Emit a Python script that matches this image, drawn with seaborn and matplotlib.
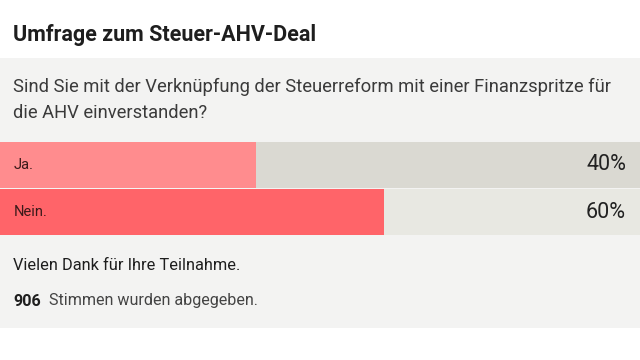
import matplotlib
matplotlib.use('Agg')
import matplotlib.pyplot as plt
import seaborn as sns
import pandas as pd
from matplotlib.patches import Rectangle

# 데이터
answers = ['Ja.', 'Nein.']
shares = [40, 60]
votes = 906
title = 'Umfrage zum Steuer-AHV-Deal'
question = ('Sind Sie mit der Verknüpfung der Steuerreform mit einer Finanzspritze für\n'
            'die AHV einverstanden?')
thanks = 'Vielen Dank für Ihre Teilnahme.'
votes_text = 'Stimmen wurden abgegeben.'

fill_colors = ['#ff8c8e', '#ff6469']
track_colors = ['#dad9d2', '#e8e8e2']

sns.set_style('white')
plt.rcParams['font.family'] = ['Roboto', 'DejaVu Sans']

W, H = 640, 360
fig = plt.figure(figsize=(W / 100, H / 100), dpi=100)
fig.patch.set_facecolor('white')


def fx(x):
    return x / W


def fy(y):
    return 1 - y / H


# 회색 패널 (축 뒤에)
fig.patches.append(Rectangle((0, fy(328)), 1, (328 - 58) / H, transform=fig.transFigure,
                             facecolor='#f3f3f2', edgecolor='none', zorder=-5))

fig.text(fx(13), fy(35), title, fontsize=15.5, fontweight='bold', color='#1e1e1e', va='center')
fig.text(fx(13), fy(100), question, fontsize=13.2, color='#3a3a3a', va='center',
         linespacing=1.6)

# 막대 영역
ax = fig.add_axes([0, fy(236), 1, (236 - 141) / H], zorder=2)
df = pd.DataFrame({'answer': answers, 'share': shares, 'full': [100] * len(answers)})
sns.barplot(data=df, y='answer', x='full', hue='answer', palette=track_colors,
            width=0.97, legend=False, ax=ax, saturation=1, linewidth=0)
sns.barplot(data=df, y='answer', x='share', hue='answer', palette=fill_colors,
            width=0.97, legend=False, ax=ax, saturation=1, linewidth=0)
ax.set_xlim(0, 100)
ax.set_ylim(len(answers) - 0.5, -0.5)
ax.axis('off')

for i, (a, s) in enumerate(zip(answers, shares)):
    ax.text(14 / W * 100, i, a, fontsize=10.5, color='#3a1a1a', va='center', ha='left')
    ax.text(626 / W * 100, i, f'{s}%', fontsize=15.5, color='#222222', va='center', ha='right')

fig.text(fx(13), fy(266), thanks, fontsize=11.8, color='#1e1e1e', va='center')
fig.text(fx(13), fy(301), str(votes), fontsize=11.6, fontweight='bold', color='#1e1e1e',
         va='center')
fig.text(fx(49), fy(301), votes_text, fontsize=11.6, color='#444444', va='center')

fig.savefig('out.png', dpi=100, facecolor='white')
